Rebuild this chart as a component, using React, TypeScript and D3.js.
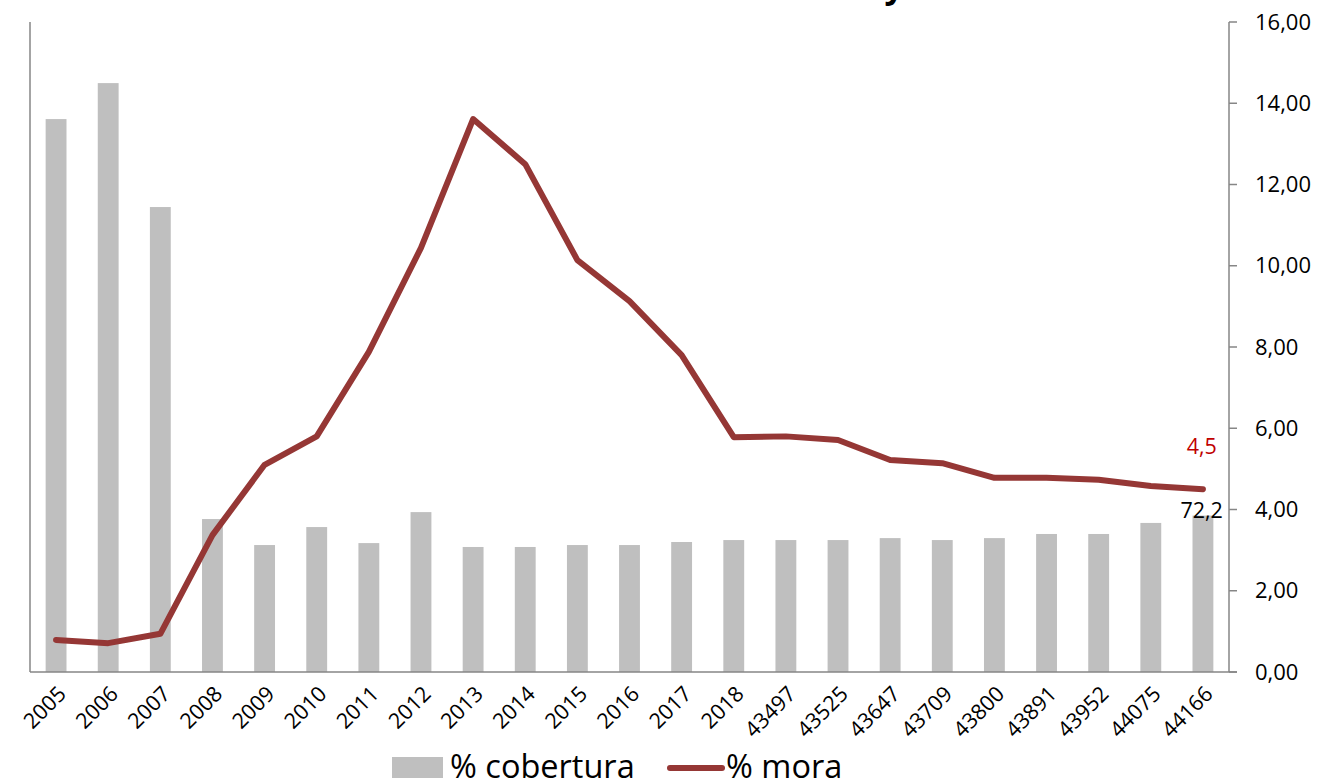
import * as d3 from "d3";

const categories = [
  "2005", "2006", "2007", "2008", "2009", "2010", "2011", "2012", "2013",
  "2014", "2015", "2016", "2017", "2018", "43497", "43525", "43647", "43709",
  "43800", "43891", "43952", "44075", "44166",
];
// % cobertura (left, hidden axis 0-300)
const cobertura = [
  255.2, 271.8, 214.6, 70.6, 58.6, 66.9, 59.5, 73.8, 57.7, 57.7, 58.6, 58.6,
  60.0, 60.9, 60.9, 60.9, 61.8, 60.9, 61.8, 63.7, 63.7, 68.8, 72.2,
];
// % mora (right axis 0-16)
const mora = [
  0.79, 0.71, 0.94, 3.37, 5.1, 5.8, 7.88, 10.44, 13.61, 12.5, 10.14, 9.13, 7.8,
  5.78, 5.8, 5.71, 5.22, 5.14, 4.78, 4.78, 4.73, 4.58, 4.5,
];
const rightTicks = [0, 2, 4, 6, 8, 10, 12, 14, 16];
const title = "Evolución del índice de mora y cobertura";

const W = 1319;
const H = 781;
const left = 30;
const right = 1229;
const top = 22;
const bottom = 672;
const font = "'Open Sans', 'Noto Sans', sans-serif";
const axisColor = "#868686";
const barColor = "#bfbfbf";
const lineColor = "#953735";

const fmt = (v: number) => v.toFixed(2).replace(".", ",");

const App = () => {
  const x = d3.scaleBand<string>().domain(categories).range([left, right]);
  const yLeft = d3.scaleLinear().domain([0, 300]).range([bottom, top]);
  const yRight = d3.scaleLinear().domain([0, 16]).range([bottom, top]);
  const barW = x.bandwidth() * 0.4;
  const cx = (c: string) => (x(c) ?? 0) + x.bandwidth() / 2;

  const line = d3
    .line<number>()
    .x((_, i) => cx(categories[i]))
    .y((d) => yRight(d));

  const lastCat = categories[categories.length - 1];
  const lastX = cx(lastCat);
  const lastMora = mora[mora.length - 1];
  const lastCob = cobertura[cobertura.length - 1];

  return (
    <svg
      width={W}
      height={H}
      viewBox={`0 0 ${W} ${H}`}
      style={{ position: "absolute", left: 0, top: 0, background: "#fff" }}
      fontFamily={font}
    >
      <text
        x={736}
        y={-2}
        textAnchor="middle"
        fontSize={34}
        fontWeight="bold"
        fill="#000"
      >
        {title}
      </text>

      {categories.map((c, i) => (
        <rect
          key={c}
          x={cx(c) - barW / 2}
          y={yLeft(cobertura[i])}
          width={barW}
          height={bottom - yLeft(cobertura[i])}
          fill={barColor}
        />
      ))}

      {/* axes */}
      <line x1={left} x2={left} y1={top} y2={bottom} stroke={axisColor} strokeWidth={1.5} />
      <line x1={left} x2={right + 8} y1={bottom} y2={bottom} stroke={axisColor} strokeWidth={1.5} />
      <line x1={right} x2={right} y1={top} y2={bottom} stroke={axisColor} strokeWidth={1.5} />
      {rightTicks.map((t) => (
        <g key={t} transform={`translate(${right}, ${yRight(t)})`}>
          <line x1={0} x2={8} stroke={axisColor} strokeWidth={1.5} />
          <text x={26} dy="0.35em" fontSize={22} fill="#000">
            {fmt(t)}
          </text>
        </g>
      ))}

      {categories.map((c) => (
        <text
          key={c}
          transform={`translate(${cx(c) + 6}, ${bottom + 18}) rotate(-45)`}
          textAnchor="end"
          dy="0.35em"
          fontSize={21.5}
          fill="#000"
        >
          {c}
        </text>
      ))}

      <path
        d={line(mora) ?? undefined}
        fill="none"
        stroke={lineColor}
        strokeWidth={6}
        strokeLinejoin="round"
        strokeLinecap="round"
      />

      <text
        x={lastX + 14}
        y={yRight(lastMora) - 35}
        textAnchor="end"
        fontSize={21.5}
        fill="#c00000"
      >
        {String(lastMora).replace(".", ",")}
      </text>
      <text
        x={lastX + 20}
        y={yLeft(lastCob) + 2}
        textAnchor="end"
        fontSize={21.5}
        fill="#000"
      >
        {String(lastCob).replace(".", ",")}
      </text>

      {/* legend */}
      <rect x={392} y={757} width={51} height={21} fill={barColor} />
      <text x={450} y={778} fontSize={32.5} fill="#000">
        % cobertura
      </text>
      <line x1={670} x2={722} y1={768} y2={768} stroke={lineColor} strokeWidth={6} strokeLinecap="round" />
      <text x={726} y={778} fontSize={32.5} fill="#000">
        % mora
      </text>
    </svg>
  );
};

export default App;
